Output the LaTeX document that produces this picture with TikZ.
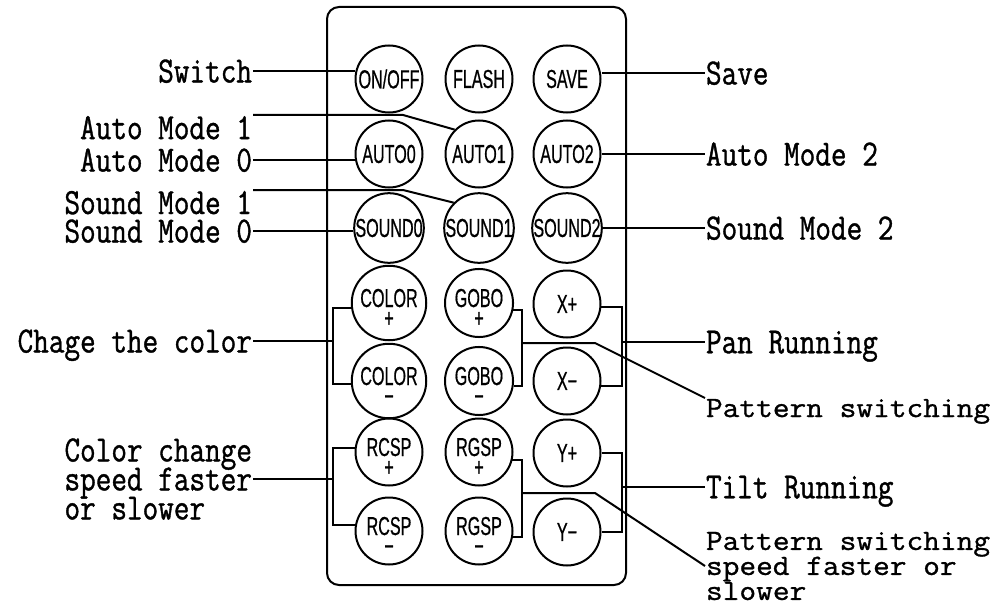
\documentclass[tikz,border=0pt]{standalone}
\usepackage{fontspec}
\newfontfamily\lblfont[FakeStretch=0.82,FakeBold=1]{Latin Modern Mono}
\newfontfamily\lblwide[FakeStretch=1.1,FakeBold=1]{Latin Modern Mono}
\newfontfamily\keyfont[FakeStretch=0.62,FakeBold=0.6]{Liberation Sans}
\newcommand\keyminus{\char"2212}
\newcommand\keygap{\rule{0pt}{14pt}}
\newcommand\tightlines{\setlength\lineskiplimit{-20pt}}

\begin{document}
\begin{tikzpicture}[x=0.5pt,y=-0.5pt,line width=1pt,
  key/.style={draw,circle,minimum size=33.5pt,inner sep=0pt,align=center,font=\keyfont\fontsize{13}{10}\selectfont\tightlines},
  lbl/.style={inner sep=0pt,text depth=0pt,font=\lblfont\fontsize{18.5}{14.5}\selectfont},
  lblmulti/.style={inner sep=0pt,align=left,font=\lblfont\fontsize{18.5}{14.5}\selectfont\tightlines},
  lblsmall/.style={inner sep=0pt,align=left,font=\lblwide\fontsize{14.75}{12.5}\selectfont\tightlines}]
\useasboundingbox (0,0) rectangle (1000,610);

\draw[rounded corners=6pt] (327,7) rectangle (626,585);

\node[key] (onoff) at (389,79) {ON/OFF};
\node[key] (flash) at (479,79) {FLASH};
\node[key] (save) at (567,79) {SAVE};
\node[key] (auto0) at (389,154) {AUTO0};
\node[key] (auto1) at (479,154) {AUTO1};
\node[key] (auto2) at (567,154) {AUTO2};
\node[key] (sound0) at (389,228) {SOUND0};
\node[key] (sound1) at (479,228) {SOUND1};
\node[key] (sound2) at (567,228) {SOUND2};
\node[key] (colorp) at (389,303) {\keygap COLOR\\+};
\node[key] (gobop) at (479,303) {\keygap GOBO\\+};
\node[key] (xp) at (567,304) {X+};
\node[key] (colorm) at (389,381) {\keygap COLOR\\\keyminus};
\node[key] (gobom) at (479,381) {\keygap GOBO\\\keyminus};
\node[key] (xm) at (567,381) {X\keyminus};
\node[key] (rcspp) at (389,452) {\keygap RCSP\\+};
\node[key] (rgspp) at (479,452) {\keygap RGSP\\+};
\node[key] (yp) at (567,453) {Y+};
\node[key] (rcspm) at (389,531) {\keygap RCSP\\\keyminus};
\node[key] (rgspm) at (479,531) {\keygap RGSP\\\keyminus};
\node[key] (ym) at (567,532) {Y\keyminus};

\node[lbl,anchor=east] (switch) at (253,71) {Switch};
\draw (switch.east) -- (switch.east -| onoff.west);

\node[lbl,anchor=north east] (automode1) at (253,115) {Auto Mode 1};
\coordinate (auto1bend) at (403,115);
\draw (automode1.north east) -- (auto1bend) -- (auto1.135);

\node[lbl,anchor=east] (automode0) at (253,160) {Auto Mode 0};
\draw (automode0.east) -- (automode0.east -| auto0.west);

\node[lbl,anchor=north east] (soundmode1) at (253,190) {Sound Mode 1};
\coordinate (sound1bend) at (403,190);
\draw (soundmode1.north east) -- (sound1bend) -- (sound1.135);

\node[lbl,anchor=east] (soundmode0) at (253,231) {Sound Mode 0};
\draw (soundmode0.east) -- (soundmode0.east -| sound0.west);

\node[lbl,anchor=east] (chcolor) at (253,341) {Chage the color};
\coordinate (colorbar) at (333,341);
\draw (colorp.188) -| (colorbar) |- (colorm.185);
\draw (chcolor.east) -- (colorbar);

\node[lblmulti,anchor=east] (colspeed) at (253,479) {Color change\\speed faster\\or slower};
\coordinate (rcspbar) at (333,479);
\draw (rcspp.173) -| (rcspbar) |- (rcspm.170);
\draw (colspeed.east) -- (rcspbar);

\node[lbl,anchor=west] (savelbl) at (705,73) {Save};
\draw (savelbl.west -| save.east) -- (savelbl.west);

\node[lbl,anchor=west] (automode2) at (705,154) {Auto Mode 2};
\draw (automode2.west -| auto2.east) -- (automode2.west);

\node[lbl,anchor=west] (soundmode2) at (705,228) {Sound Mode 2};
\draw (soundmode2.west -| sound2.east) -- (soundmode2.west);

\node[lbl,anchor=west] (pan) at (705,342) {Pan Running};
\coordinate (xbar) at (622,342);
\draw (xp.355) -| (xbar) |- (xm.352);
\draw (xbar) -- (pan.west);

\node[lblsmall,anchor=north west] (pattern) at (705,398) {Pattern switching};
\coordinate (gobobar) at (522,343);
\coordinate (gobobend) at (595,343);
\draw (gobop.348) -| (gobobar) |- (gobom.352);
\draw (gobobar) -- (gobobend) -- (pattern.north west);

\node[lbl,anchor=west] (tilt) at (705,487) {Tilt Running};
\coordinate (ybar) at (622,487);
\draw (yp.east) -| (ybar) |- (ym.east);
\draw (ybar) -- (tilt.west);

\node[lblsmall,anchor=west] (patspeed) at (705,566) {Pattern switching\\speed faster or\\slower};
\coordinate (rgspbar) at (522,493);
\coordinate (rgspbend) at (595,493);
\draw (rgspp.346) -| (rgspbar) |- (rgspm.350);
\draw (rgspbar) -- (rgspbend) -- (patspeed.west);
\end{tikzpicture}
\end{document}
